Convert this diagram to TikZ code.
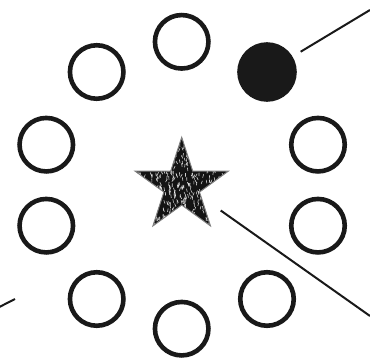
\documentclass[tikz,border=0pt]{standalone}
\usetikzlibrary{shapes.geometric}
\tikzset{
  ring/.style={circle, draw=black!90, line width=4.6pt, minimum size=53.5pt, inner sep=0pt},
  dot/.style={circle, fill=black!90, draw=black!90, line width=4.6pt, minimum size=55pt, inner sep=0pt},
  link/.style={draw=black!90, line width=2pt},
  starnode/.style={star, star points=5, star point ratio=2.618, minimum size=98pt, inner sep=0pt,
    fill=black!92, draw=black!50, line width=1pt}
}
\begin{document}
\begin{tikzpicture}[x=1pt,y=1pt]
\useasboundingbox (0,0) rectangle (370,358);
% ring of circles
\node[ring] (c1) at (181.7,316.2) {};
\node[ring] (c2) at (96.7,286) {};
\node[dot]  (f)  at (267,286) {};
\node[ring] (c3) at (46.3,213.3) {};
\node[ring] (c4) at (318,213.3) {};
\node[ring] (c5) at (46.3,132.3) {};
\node[ring] (c6) at (318,132.3) {};
\node[ring] (c7) at (96.7,59) {};
\node[ring] (c8) at (267,59) {};
\node[ring] (c9) at (181.7,29.3) {};
% central textured star
\node[starnode, path picture={
  \pgfmathsetseed{42}
  \foreach \i in {1,...,700}{
    \pgfmathsetmacro{\px}{(rnd-0.5)*100}
    \pgfmathsetmacro{\py}{(rnd-0.5)*100}
    \pgfmathsetmacro{\pa}{60+rnd*60}
    \draw[white, line width=0.6pt, opacity=0.8] ([shift={(\px,\py)}]path picture bounding box.center) -- ++(\pa:3.5pt);
  }
}] (star) at (181.7,171.7) {};
% connectors
\coordinate (e1) at (370,348);
\draw[link, shorten <=9.5pt] (f) -- (e1);
\coordinate (s2) at (220.7,147.5);
\coordinate (e2) at (370,42);
\draw[link] (s2) -- (e2);
\coordinate (s3) at (15,59);
\coordinate (e3) at (-2,50.3);
\draw[link] (s3) -- (e3);
\end{tikzpicture}
\end{document}
